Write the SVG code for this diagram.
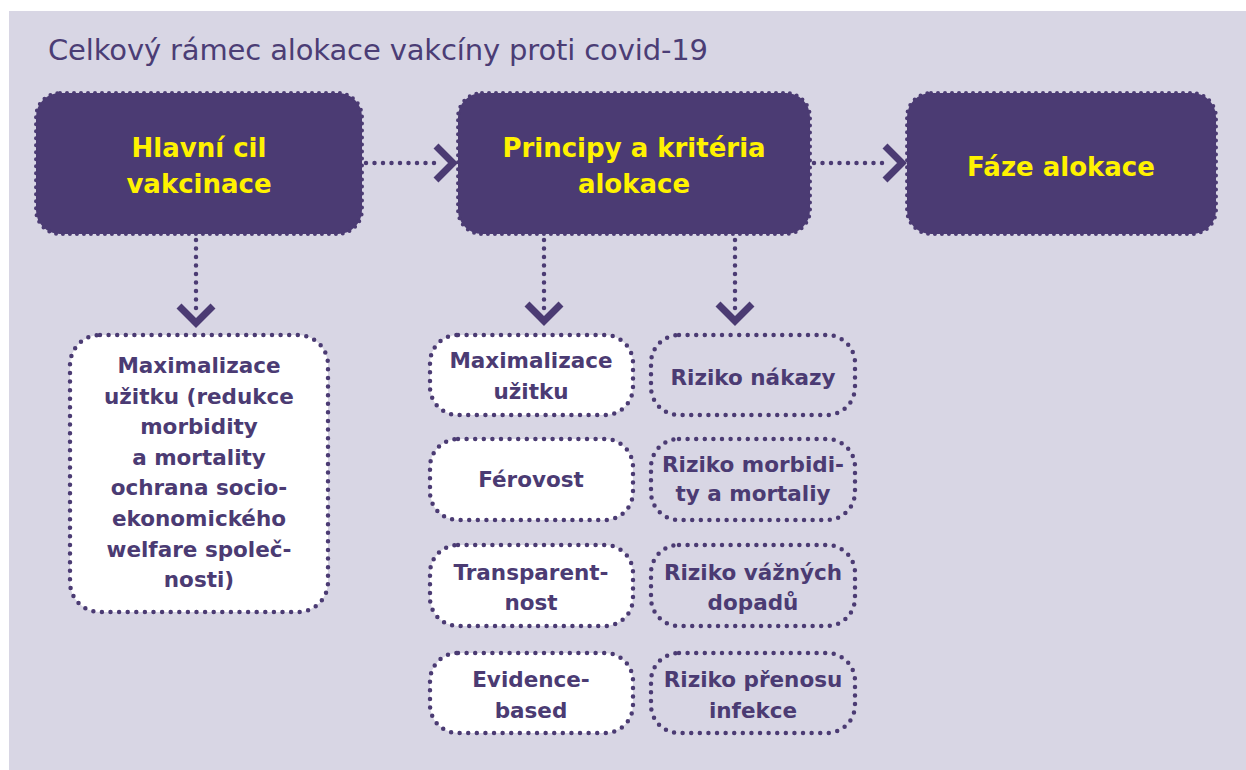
<svg xmlns="http://www.w3.org/2000/svg" width="1246" height="770" viewBox="0 0 1246 770">
<style>
.bg{fill:#d8d6e4}
.dark{fill:#4b3b73;stroke:#4b3b73;stroke-width:4;stroke-dasharray:0 7;stroke-linecap:round}
.wbox{fill:#ffffff;stroke:#4b3b73;stroke-width:4.5;stroke-dasharray:0 8.6;stroke-linecap:round}
.obox{fill:none;stroke:#4b3b73;stroke-width:4.5;stroke-dasharray:0 8.6;stroke-linecap:round}
.dots{fill:none;stroke:#4b3b73;stroke-width:4.5;stroke-dasharray:0 8.5;stroke-linecap:round}
.chev{fill:none;stroke:#4b3b73;stroke-width:7;stroke-linejoin:miter}
.title{font-family:"DejaVu Sans",sans-serif;font-size:29px;fill:#4b3d75}
.head{font-family:"DejaVu Sans",sans-serif;font-weight:bold;font-size:26px;fill:#fff200;text-anchor:middle}
.lbl{font-family:"DejaVu Sans",sans-serif;font-weight:bold;font-size:21.5px;fill:#4b3b73;text-anchor:middle}
</style>
<rect x="0" y="0" width="1246" height="770" fill="#ffffff"/>
<rect class="bg" x="9" y="11" width="1237" height="759"/>
<text class="title" x="48" y="60" textLength="660" lengthAdjust="spacing">Celkový rámec alokace vakcíny proti covid-19</text>

<g id="connectors">
  <line class="dots" x1="366" y1="163" x2="440" y2="163"/>
  <polyline class="chev" points="436,146 453,163 436,180"/>
  <line class="dots" x1="814" y1="163" x2="890" y2="163"/>
  <polyline class="chev" points="885,146 902,163 885,180"/>
  <line class="dots" x1="196" y1="240" x2="196" y2="312"/>
  <polyline class="chev" points="179,306 196,323 213,306"/>
  <line class="dots" x1="544" y1="240" x2="544" y2="312"/>
  <polyline class="chev" points="527,304 544,321 561,304"/>
  <line class="dots" x1="735" y1="240" x2="735" y2="312"/>
  <polyline class="chev" points="718,304 735,321 752,304"/>
</g>

<g id="node-hlavni-cil">
  <rect class="dark" x="36" y="93" width="326" height="141" rx="24"/>
  <text class="head" x="199" y="157">Hlavní cil</text>
  <text class="head" x="199" y="193">vakcinace</text>
</g>
<g id="node-principy">
  <rect class="dark" x="458" y="93" width="352" height="141" rx="24"/>
  <text class="head" x="634" y="157">Principy a kritéria</text>
  <text class="head" x="634" y="193">alokace</text>
</g>
<g id="node-faze">
  <rect class="dark" x="907" y="93" width="309" height="141" rx="24"/>
  <text class="head" x="1061" y="176">Fáze alokace</text>
</g>

<g id="node-cil-detail">
  <rect class="wbox" x="70" y="335" width="258" height="277" rx="30"/>
  <text class="lbl" x="199" y="373">Maximalizace</text>
  <text class="lbl" x="199" y="403.6">užitku (redukce</text>
  <text class="lbl" x="199" y="434.2">morbidity</text>
  <text class="lbl" x="199" y="464.8">a mortality</text>
  <text class="lbl" x="199" y="495.4">ochrana socio-</text>
  <text class="lbl" x="199" y="526">ekonomického</text>
  <text class="lbl" x="199" y="556.6">welfare společ-</text>
  <text class="lbl" x="199" y="587.2">nosti)</text>
</g>

<g id="node-maximalizace">
  <rect class="wbox" x="430" y="335" width="203" height="80" rx="28"/>
  <text class="lbl" x="531" y="368">Maximalizace</text>
  <text class="lbl" x="531" y="399">užitku</text>
</g>
<g id="node-ferovost">
  <rect class="wbox" x="430" y="439" width="203" height="81" rx="28"/>
  <text class="lbl" x="531" y="487">Férovost</text>
</g>
<g id="node-transparentnost">
  <rect class="wbox" x="430" y="545" width="203" height="81" rx="28"/>
  <text class="lbl" x="531" y="580">Transparent-</text>
  <text class="lbl" x="531" y="610">nost</text>
</g>
<g id="node-evidence">
  <rect class="wbox" x="430" y="653" width="203" height="80" rx="28"/>
  <text class="lbl" x="531" y="687">Evidence-</text>
  <text class="lbl" x="531" y="718">based</text>
</g>

<g id="node-riziko-nakazy">
  <rect class="obox" x="651" y="335" width="204" height="80" rx="28"/>
  <text class="lbl" x="753" y="385">Riziko nákazy</text>
</g>
<g id="node-riziko-morbidity">
  <rect class="obox" x="651" y="439" width="204" height="81" rx="28"/>
  <text class="lbl" x="753" y="472">Riziko morbidi-</text>
  <text class="lbl" x="753" y="501">ty a mortaliy</text>
</g>
<g id="node-riziko-dopadu">
  <rect class="obox" x="651" y="545" width="204" height="81" rx="28"/>
  <text class="lbl" x="753" y="580">Riziko vážných</text>
  <text class="lbl" x="753" y="610">dopadů</text>
</g>
<g id="node-riziko-prenosu">
  <rect class="obox" x="651" y="653" width="204" height="80" rx="28"/>
  <text class="lbl" x="753" y="687">Riziko přenosu</text>
  <text class="lbl" x="753" y="718">infekce</text>
</g>
</svg>
